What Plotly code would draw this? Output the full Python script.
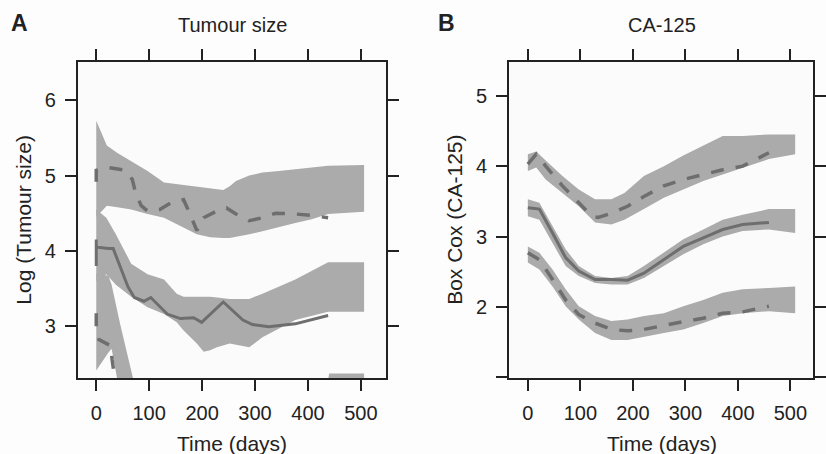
import plotly.graph_objects as go

W, H = 826, 454

# ---------------- Panel A: Tumour size ----------------
a_up_band_x = [0, 20, 40, 66, 97, 128, 165, 190, 215, 240, 252, 264, 289, 314, 345, 376, 407, 438, 506]
a_up_band_hi = [5.73, 5.40, 5.30, 5.19, 5.06, 4.91, 4.88, 4.86, 4.84, 4.81, 4.86, 4.93, 5.00, 5.04, 5.06, 5.08, 5.11, 5.13, 5.14]
a_up_band_lo = [4.45, 4.60, 4.58, 4.55, 4.49, 4.44, 4.31, 4.22, 4.18, 4.17, 4.17, 4.18, 4.22, 4.26, 4.31, 4.37, 4.42, 4.49, 4.52]

a_mid_band_x = [0, 19, 37, 66, 97, 128, 152, 165, 190, 203, 215, 228, 252, 289, 314, 376, 438, 506]
a_mid_band_hi = [4.55, 4.44, 4.22, 3.83, 3.69, 3.62, 3.43, 3.39, 3.39, 3.39, 3.39, 3.38, 3.36, 3.36, 3.43, 3.62, 3.85, 3.85]
a_mid_band_lo = [3.60, 3.69, 3.55, 3.39, 3.25, 3.16, 3.05, 2.94, 2.77, 2.66, 2.68, 2.72, 2.77, 2.72, 2.85, 3.08, 3.19, 3.19]

a_low_band_x = [0, 23, 29, 40, 45, 69, 100, 200, 300, 400, 436, 440, 506]
a_low_band_hi = [3.70, 3.67, 3.55, 3.20, 3.03, 2.32, 1.90, 1.60, 1.70, 2.10, 2.20, 2.37, 2.37]
a_low_band_lo = [2.41, 2.65, 2.70, 2.28, 2.10, 1.60, 1.30, 1.00, 1.00, 1.30, 1.50, 1.50, 1.50]

a_up_line_x = [0, 0, 10, 20, 55, 68, 75, 85, 97, 120, 146, 165, 177, 190, 203, 228, 246, 264, 289, 314, 339, 376, 407, 438]
a_up_line_y = [4.92, 5.07, 5.09, 5.11, 5.07, 4.95, 4.75, 4.60, 4.53, 4.55, 4.66, 4.68, 4.49, 4.27, 4.44, 4.53, 4.57, 4.49, 4.40, 4.44, 4.50, 4.49, 4.47, 4.44]

a_mid_line_x = [0, 0, 0, 23, 32, 60, 72, 90, 103, 134, 159, 184, 199, 240, 277, 295, 326, 376, 438]
a_mid_line_y = [4.15, 3.80, 4.05, 4.03, 4.03, 3.52, 3.38, 3.33, 3.38, 3.16, 3.10, 3.11, 3.05, 3.32, 3.08, 3.02, 2.99, 3.03, 3.14]

a_low_line_x = [0, 0, 5, 20, 27, 30, 35, 45, 100, 200, 300, 438]
a_low_line_y = [3.17, 2.98, 2.82, 2.77, 2.74, 2.55, 2.30, 2.00, 1.60, 1.30, 1.40, 1.80]

# ---------------- Panel B: CA-125 ----------------
b_up_band_x = [0, 16, 34, 66, 97, 128, 159, 184, 221, 259, 296, 334, 371, 409, 459, 509]
b_up_band_hi = [4.17, 4.21, 4.08, 3.86, 3.67, 3.53, 3.53, 3.62, 3.86, 4.00, 4.15, 4.29, 4.43, 4.43, 4.45, 4.45]
b_up_band_lo = [3.93, 3.98, 3.81, 3.62, 3.43, 3.20, 3.17, 3.24, 3.39, 3.55, 3.67, 3.79, 3.88, 3.97, 4.10, 4.17]
b_up_line_x = [0, 16, 34, 66, 97, 122, 134, 159, 190, 221, 259, 296, 334, 371, 409, 459]
b_up_line_y = [4.03, 4.17, 4.00, 3.72, 3.48, 3.29, 3.27, 3.33, 3.43, 3.57, 3.72, 3.81, 3.88, 3.95, 4.00, 4.19]

b_mid_band_x = [0, 22, 47, 72, 97, 128, 159, 190, 221, 259, 296, 334, 371, 409, 459, 509]
b_mid_band_hi = [3.53, 3.48, 3.15, 2.82, 2.58, 2.44, 2.41, 2.44, 2.58, 2.77, 2.96, 3.10, 3.24, 3.31, 3.39, 3.39]
b_mid_band_lo = [3.29, 3.24, 2.91, 2.58, 2.44, 2.34, 2.32, 2.32, 2.41, 2.58, 2.75, 2.89, 3.00, 3.08, 3.10, 3.05]
b_mid_line_x = [0, 22, 47, 72, 97, 128, 159, 190, 221, 259, 296, 334, 371, 409, 459]
b_mid_line_y = [3.41, 3.39, 3.05, 2.70, 2.51, 2.39, 2.39, 2.38, 2.48, 2.67, 2.86, 2.98, 3.10, 3.17, 3.20]

b_low_band_x = [0, 22, 47, 72, 97, 128, 159, 190, 221, 259, 296, 334, 371, 409, 459, 509]
b_low_band_hi = [2.86, 2.77, 2.53, 2.25, 2.01, 1.87, 1.80, 1.82, 1.87, 1.91, 2.01, 2.10, 2.20, 2.25, 2.27, 2.29]
b_low_band_lo = [2.63, 2.53, 2.29, 2.01, 1.82, 1.63, 1.53, 1.53, 1.58, 1.63, 1.68, 1.77, 1.87, 1.91, 1.94, 1.91]
b_low_line_x = [0, 22, 47, 72, 97, 128, 159, 190, 221, 259, 296, 334, 371, 409, 459]
b_low_line_y = [2.77, 2.67, 2.39, 2.10, 1.89, 1.77, 1.68, 1.66, 1.68, 1.74, 1.79, 1.84, 1.91, 1.93, 2.01]

x_ticks = [0, 100, 200, 300, 400, 500]
a_y_ticks = [3, 4, 5, 6]
b_y_ticks = [1, 2, 3, 4, 5]
b_y_ticktext = ["", "2", "3", "4", "5"]

BAND = "#ababab"
LINE = "#6e6e6e"
INK = "#222222"
FONT = "Liberation Sans, Arial, Helvetica, sans-serif"

fig = go.Figure()


def band(x, hi, lo, xa, ya):
    fig.add_trace(go.Scatter(
        x=list(x) + list(x)[::-1], y=list(hi) + list(lo)[::-1],
        fill="toself", fillcolor=BAND, mode="lines", line=dict(width=0, color=BAND),
        hoverinfo="skip", showlegend=False, xaxis=xa, yaxis=ya))


def line(x, y, dash, xa, ya):
    fig.add_trace(go.Scatter(
        x=x, y=y, mode="lines", line=dict(color=LINE, width=3.5 if dash != "solid" else 3, dash=dash),
        showlegend=False, xaxis=xa, yaxis=ya))


DASH = "13px,12px"
band(a_up_band_x, a_up_band_hi, a_up_band_lo, "x", "y")
band(a_mid_band_x, a_mid_band_hi, a_mid_band_lo, "x", "y")
band(a_low_band_x, a_low_band_hi, a_low_band_lo, "x", "y")
line(a_up_line_x, a_up_line_y, DASH, "x", "y")
line(a_mid_line_x, a_mid_line_y, "solid", "x", "y")
line(a_low_line_x, a_low_line_y, DASH, "x", "y")

band(b_up_band_x, b_up_band_hi, b_up_band_lo, "x2", "y2")
band(b_mid_band_x, b_mid_band_hi, b_mid_band_lo, "x2", "y2")
band(b_low_band_x, b_low_band_hi, b_low_band_lo, "x2", "y2")
line(b_up_line_x, b_up_line_y, DASH, "x2", "y2")
line(b_mid_line_x, b_mid_line_y, "solid", "x2", "y2")
line(b_low_line_x, b_low_line_y, DASH, "x2", "y2")

ydom = [1 - 378 / H, 1 - 62 / H]
axis_common = dict(
    showgrid=False, zeroline=False, showline=True, linewidth=2, linecolor=INK,
    mirror="ticks", ticks="outside", ticklen=11, tickwidth=2, tickcolor=INK,
    tickfont=dict(family=FONT, size=20, color=INK), fixedrange=True,
)

fig.update_layout(
    width=W, height=H,
    margin=dict(l=0, r=0, t=0, b=0),
    paper_bgcolor="#fdfdfd", plot_bgcolor="#fbfbfb",
    xaxis=dict(domain=[79 / W, 391 / W], range=[-34.6, 547], tickvals=x_ticks,
               anchor="y", ticklabelstandoff=5, **axis_common),
    yaxis=dict(domain=ydom, range=[2.31, 6.51], tickvals=a_y_ticks,
               anchor="x", ticklabelstandoff=5, **axis_common),
    xaxis2=dict(domain=[516 / W, 824 / W], range=[-35.6, 543], tickvals=x_ticks,
                anchor="y2", ticklabelstandoff=5, **axis_common),
    yaxis2=dict(domain=ydom, range=[0.99, 5.48], tickvals=b_y_ticks, ticktext=b_y_ticktext,
                anchor="x2", ticklabelstandoff=5, **axis_common),
)


def ann(text, px, py, size=20, bold=False, angle=0):
    fig.add_annotation(
        text=f"<b>{text}</b>" if bold else text, x=px / W, y=1 - py / H,
        xref="paper", yref="paper", xanchor="center", yanchor="middle",
        showarrow=False, textangle=angle,
        font=dict(family=FONT, size=size, color=INK))


ann("A", 20, 23, size=23, bold=True)
ann("B", 453, 23, size=23, bold=True)
ann("Tumour size", 236, 25, size=20)
ann("CA-125", 671, 25, size=20)
ann("Time (days)", 235, 443, size=21)
ann("Time (days)", 671, 443, size=21)
ann("Log (Tumour size)", 23, 220, size=21, angle=-90)
ann("Box Cox (CA-125)", 460, 220, size=21, angle=-90)

fig.write_html(
    "out.html",
    config={"displayModeBar": False, "staticPlot": True},
    post_script="document.body.style.margin='0';document.body.style.overflow='hidden';",
)
